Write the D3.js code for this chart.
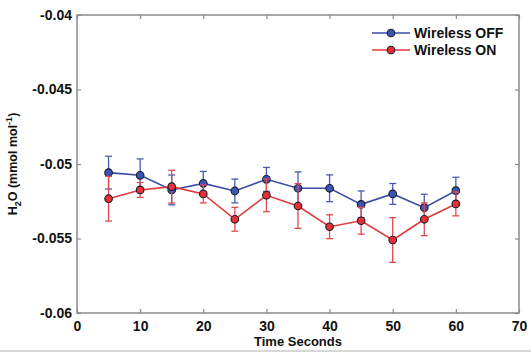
<!DOCTYPE html>
<html>
<head>
<meta charset="utf-8">
<script src="https://cdn.jsdelivr.net/npm/d3@7"></script>
<style>
  body { margin: 0; background: #fff; }
  text { font-family: "Liberation Sans", Arial, sans-serif; font-weight: bold; }
</style>
</head>
<body>
<div id="chart"></div>
<script>
// time (s)
var times = [5, 10, 15, 20, 25, 30, 35, 40, 45, 50, 55, 60];
// Wireless OFF
var offMean = [-0.05058, -0.05076, -0.05174, -0.0513, -0.05181, -0.05103, -0.05163, -0.05163, -0.05271, -0.05201, -0.05293, -0.05179];
var offErr = [0.0011, 0.0011, 0.001, 0.0008, 0.0008, 0.0008, 0.0011, 0.0009, 0.0009, 0.0007, 0.0009, 0.0009];
// Wireless ON
var onMean = [-0.05233, -0.05174, -0.05152, -0.05201, -0.05371, -0.0521, -0.05282, -0.05421, -0.05381, -0.0551, -0.05371, -0.05268];
var onErr = [0.0015, 0.0005, 0.0011, 0.0006, 0.0008, 0.0011, 0.0015, 0.0008, 0.0009, 0.0015, 0.0011, 0.0008];

var xTicks = [0, 10, 20, 30, 40, 50, 60, 70];
var yTicks = [-0.06, -0.055, -0.05, -0.045, -0.04];
var seriesNames = ["Wireless OFF", "Wireless ON"];

var W = 531, H = 354;
var pLeft = 77, pRight = 519, pTop = 15, pBottom = 313;

var svg = d3.select("#chart").append("svg")
	.attr("width", W)
	.attr("height", H);

var x = d3.scaleLinear().domain([0, 70]).range([pLeft, pRight]);
var y = d3.scaleLinear().domain([-0.06, -0.04]).range([pBottom, pTop]);

var axisColor = "#8a8a8a";

// box
svg.append("rect")
	.attr("x", pLeft).attr("y", pTop)
	.attr("width", pRight - pLeft).attr("height", pBottom - pTop)
	.attr("fill", "none")
	.attr("stroke", axisColor)
	.attr("stroke-width", 1.5);

var fmtY = function (d) { return String(+d.toFixed(3)); };

var gx = svg.append("g")
	.attr("transform", "translate(0," + pBottom + ")")
	.call(d3.axisBottom(x).tickValues(xTicks).tickSize(-4).tickPadding(8));
var gxTop = svg.append("g")
	.attr("transform", "translate(0," + pTop + ")")
	.call(d3.axisTop(x).tickValues(xTicks).tickSize(-4).tickFormat(""));
var gy = svg.append("g")
	.attr("transform", "translate(" + pLeft + ",0)")
	.call(d3.axisLeft(y).tickValues(yTicks).tickSize(-4).tickPadding(5).tickFormat(fmtY));
var gyRight = svg.append("g")
	.attr("transform", "translate(" + pRight + ",0)")
	.call(d3.axisRight(y).tickValues(yTicks).tickSize(-4).tickFormat(""));

[gx, gxTop, gy, gyRight].forEach(function (g) {
	g.select(".domain").remove();
	g.selectAll(".tick line").attr("stroke", axisColor).attr("stroke-width", 1.2);
	g.selectAll("text").attr("fill", "#111").attr("font-size", 14)
		.attr("font-family", "'Liberation Sans', Arial, sans-serif").attr("font-weight", "bold");
});

// axis titles
svg.append("text")
	.attr("x", (pLeft + pRight) / 2)
	.attr("y", 346)
	.attr("text-anchor", "middle")
	.attr("font-size", 13)
	.attr("fill", "#111")
	.text("Time Seconds");

var yl = svg.append("text")
	.attr("transform", "translate(17," + ((pTop + pBottom) / 2) + ") rotate(-90)")
	.attr("text-anchor", "middle")
	.attr("font-size", 12.5)
	.attr("fill", "#111");
yl.append("tspan").text("H");
yl.append("tspan").attr("font-size", 9).attr("dy", 4).text("2");
yl.append("tspan").attr("dy", -4).text("O (mmol mol");
yl.append("tspan").attr("font-size", 9).attr("dy", -5).text("-1");
yl.append("tspan").attr("dy", 5).text(")");

var series = [
	{ name: seriesNames[0], mean: offMean, err: offErr, line: "#3a4da6", fill: "#3c55b5", bar: "#4a5bb0" },
	{ name: seriesNames[1], mean: onMean, err: onErr, line: "#e03a3e", fill: "#e83038", bar: "#e24a50" }
];

var cap = 3.5;
series.forEach(function (s) {
	var g = svg.append("g");
	var pts = times.map(function (t, i) { return { t: t, m: s.mean[i], e: s.err[i] }; });

	var eb = g.selectAll(".eb").data(pts).enter().append("g").attr("stroke", s.bar).attr("stroke-width", 1.3);
	eb.append("line")
		.attr("x1", function (d) { return x(d.t); }).attr("x2", function (d) { return x(d.t); })
		.attr("y1", function (d) { return y(d.m - d.e); }).attr("y2", function (d) { return y(d.m + d.e); });
	eb.append("line")
		.attr("x1", function (d) { return x(d.t) - cap; }).attr("x2", function (d) { return x(d.t) + cap; })
		.attr("y1", function (d) { return y(d.m + d.e); }).attr("y2", function (d) { return y(d.m + d.e); });
	eb.append("line")
		.attr("x1", function (d) { return x(d.t) - cap; }).attr("x2", function (d) { return x(d.t) + cap; })
		.attr("y1", function (d) { return y(d.m - d.e); }).attr("y2", function (d) { return y(d.m - d.e); });

	g.append("path")
		.datum(pts)
		.attr("fill", "none")
		.attr("stroke", s.line)
		.attr("stroke-width", 1.6)
		.attr("d", d3.line().x(function (d) { return x(d.t); }).y(function (d) { return y(d.m); }));

	g.selectAll("circle").data(pts).enter().append("circle")
		.attr("cx", function (d) { return x(d.t); })
		.attr("cy", function (d) { return y(d.m); })
		.attr("r", 3.8)
		.attr("fill", s.fill)
		.attr("stroke", "#1a1a2a")
		.attr("stroke-width", 1.1);
});

// legend
series.forEach(function (s, i) {
	var ly = 33 + i * 17;
	svg.append("line")
		.attr("x1", 372).attr("x2", 410).attr("y1", ly).attr("y2", ly)
		.attr("stroke", s.line).attr("stroke-width", 1.6);
	svg.append("circle")
		.attr("cx", 391).attr("cy", ly).attr("r", 3.8)
		.attr("fill", s.fill).attr("stroke", "#1a1a2a").attr("stroke-width", 1.1);
	svg.append("text")
		.attr("x", 414).attr("y", ly + 5)
		.attr("font-size", 14)
		.attr("fill", "#111")
		.text(s.name);
});

// faint bottom edge of the picture
svg.append("line")
	.attr("x1", 0).attr("x2", W).attr("y1", 351).attr("y2", 351)
	.attr("stroke", "#d8d8d8").attr("stroke-width", 2);
</script>
</body>
</html>
